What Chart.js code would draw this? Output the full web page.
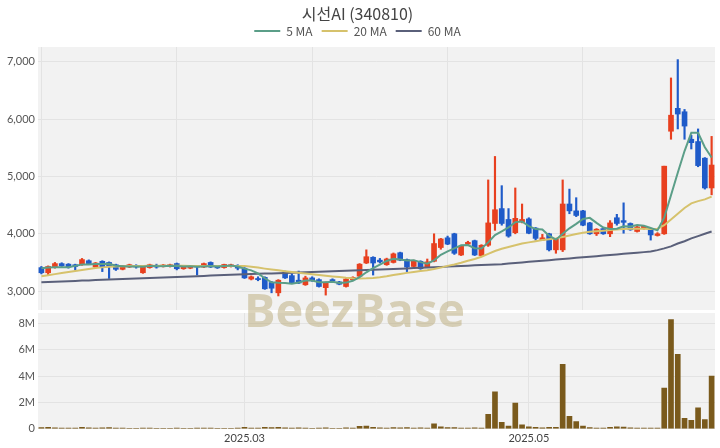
<!DOCTYPE html>
<html>
<head>
<meta charset="utf-8">
<script src="https://cdn.jsdelivr.net/npm/chart.js@4.4.1/dist/chart.umd.min.js"></script>
<style>
  body { margin: 0; background: #fff; width: 720px; height: 448px; overflow: hidden; position: relative; }
  #wrapTop { position: absolute; left: 0; top: 0; width: 720px; height: 310px; }
  #wrapVol { position: absolute; left: 0; top: 310px; width: 720px; height: 138px; }
  #mark { position: absolute; left: 244px; top: 277px; font: bold 47px "Open Sans", sans-serif;
          color: rgba(185, 170, 120, 0.5); pointer-events: none; }
</style>
</head>
<body>
<div id="wrapTop"><canvas id="chPrice"></canvas></div>
<div id="wrapVol"><canvas id="chVol"></canvas></div>
<div id="mark">BeezBase</div>
<script>
// trading days
var dates = ['2025-01-14','2025-01-15','2025-01-16','2025-01-17','2025-01-20','2025-01-21','2025-01-22','2025-01-23','2025-01-24','2025-01-31',
  '2025-02-03','2025-02-04','2025-02-05','2025-02-06','2025-02-07','2025-02-10','2025-02-11','2025-02-12','2025-02-13','2025-02-14',
  '2025-02-17','2025-02-18','2025-02-19','2025-02-20','2025-02-21','2025-02-24','2025-02-25','2025-02-26','2025-02-27','2025-02-28',
  '2025-03-04','2025-03-05','2025-03-06','2025-03-07','2025-03-10','2025-03-11','2025-03-12','2025-03-13','2025-03-14','2025-03-17',
  '2025-03-18','2025-03-19','2025-03-20','2025-03-21','2025-03-24','2025-03-25','2025-03-26','2025-03-27','2025-03-28','2025-03-31',
  '2025-04-01','2025-04-02','2025-04-03','2025-04-04','2025-04-07','2025-04-08','2025-04-09','2025-04-10','2025-04-11','2025-04-14',
  '2025-04-15','2025-04-16','2025-04-17','2025-04-18','2025-04-21','2025-04-22','2025-04-23','2025-04-24','2025-04-25','2025-04-28',
  '2025-04-29','2025-04-30','2025-05-02','2025-05-07','2025-05-08','2025-05-09','2025-05-12','2025-05-13','2025-05-14','2025-05-15',
  '2025-05-16','2025-05-19','2025-05-20','2025-05-21','2025-05-22','2025-05-23','2025-05-26','2025-05-27','2025-05-28','2025-05-29',
  '2025-05-30','2025-06-02','2025-06-04','2025-06-05','2025-06-09','2025-06-10','2025-06-11','2025-06-12','2025-06-13','2025-06-16'];

var openP = [3410,3320,3420,3480,3470,3460,3460,3530,3420,3520,
  3500,3460,3380,3420,3450,3320,3410,3450,3430,3430,
  3480,3390,3400,3440,3420,3500,3430,3410,3430,3450,
  3400,3210,3220,3240,3150,2970,3330,3270,3190,3110,
  3230,3200,3060,3200,3160,3080,3200,3260,3490,3590,
  3540,3460,3500,3670,3550,3430,3520,3420,3520,3760,
  3930,4000,3630,3820,3880,3620,3800,4180,4440,4250,
  4020,4210,4260,4100,3890,4000,3720,3720,4520,4400,
  4400,4190,4000,4090,4000,4280,4230,4180,4040,4090,
  4070,3970,4000,5790,6190,6130,5650,5610,5320,4800];
var highP = [3430,3440,3500,3495,3480,3470,3570,3545,3500,3530,
  3510,3470,3450,3470,3460,3430,3470,3470,3465,3470,
  3490,3440,3440,3450,3490,3510,3440,3470,3470,3460,
  3410,3265,3250,3250,3170,3200,3350,3300,3350,3260,
  3250,3215,3160,3215,3170,3220,3250,3480,3720,3600,
  3570,3575,3665,3680,3560,3540,3530,3560,4000,3920,
  3960,4010,3790,3870,3890,3810,4940,5350,4840,4440,
  4800,4520,4280,4110,3990,4010,3920,4940,4780,4630,
  4410,4200,4090,4100,4230,4340,4540,4190,4130,4140,
  4080,4020,5180,6720,7040,6170,5720,5830,5330,5700];
var lowP = [3300,3280,3400,3430,3400,3370,3450,3470,3410,3340,
  3220,3360,3370,3410,3400,3310,3400,3400,3420,3420,
  3370,3380,3390,3280,3410,3410,3395,3400,3420,3370,
  3220,3195,3180,3030,2970,2915,3220,3130,3130,3100,
  3170,3070,2930,3170,3110,3070,3190,3250,3480,3280,
  3490,3450,3490,3530,3340,3420,3380,3410,3510,3730,
  3810,3640,3620,3810,3620,3600,3780,4060,4150,3940,
  4000,4190,4000,3890,3880,3700,3660,3690,4350,4300,
  4140,3990,3970,3990,3950,4150,4010,4060,4030,4080,
  3890,3960,3990,5650,5830,5650,5480,5170,4780,4680];
var closeP = [3320,3430,3480,3440,3420,3430,3550,3480,3490,3420,
  3440,3380,3440,3460,3420,3420,3460,3420,3455,3460,
  3390,3430,3430,3420,3480,3420,3405,3465,3460,3400,
  3230,3250,3200,3040,3050,3190,3230,3140,3140,3230,
  3180,3080,3150,3180,3120,3210,3240,3470,3600,3490,
  3510,3560,3650,3540,3420,3530,3390,3510,3830,3910,
  3820,3660,3780,3850,3630,3800,4190,4420,4180,3960,
  4270,4250,4010,3920,3930,3720,3910,4520,4400,4320,
  4150,4000,4080,4000,4190,4180,4200,4070,4120,4130,
  3980,4000,5180,6070,6090,5880,5590,5190,4800,5200];

var ma5 = [3400,3410,3415,3415,3418,3440,3464,3464,3474,3474,
  3476,3442,3434,3428,3428,3424,3440,3436,3435,3443,
  3437,3431,3433,3426,3430,3436,3431,3438,3446,3430,
  3392,3361,3308,3224,3154,3146,3142,3130,3150,3186,
  3184,3154,3156,3164,3142,3148,3180,3244,3328,3402,
  3462,3526,3562,3550,3536,3540,3506,3478,3536,3634,
  3692,3746,3800,3804,3748,3744,3850,3978,4044,4110,
  4204,4216,4134,4082,4076,3966,3898,4000,4096,4174,
  4260,4278,4190,4110,4084,4090,4130,4128,4152,4140,
  4100,4060,4282,4672,5064,5444,5762,5764,5510,5332];
var ma20 = [3260,3278,3296,3314,3332,3350,3368,3386,3402,3414,
  3424,3430,3435,3438,3440,3440,3442,3443,3443,3443,
  3442,3441,3440,3439,3438,3438,3437,3437,3437,3438,
  3440,3425,3410,3392,3376,3362,3348,3334,3320,3306,
  3292,3280,3268,3256,3244,3232,3224,3220,3222,3230,
  3242,3258,3280,3300,3318,3334,3350,3365,3385,3410,
  3440,3465,3495,3530,3560,3600,3650,3700,3740,3770,
  3800,3830,3850,3870,3890,3905,3920,3945,3970,3995,
  4020,4035,4045,4055,4065,4075,4085,4090,4090,4090,
  4085,4090,4150,4250,4350,4450,4530,4570,4600,4650];
var ma60 = [3155,3160,3164,3169,3173,3178,3183,3187,3192,3196,
  3201,3206,3210,3215,3219,3224,3229,3233,3238,3242,
  3247,3252,3256,3261,3265,3270,3275,3279,3284,3288,
  3293,3297,3301,3305,3309,3313,3317,3321,3326,3330,
  3334,3338,3342,3346,3350,3355,3359,3363,3367,3371,
  3375,3380,3385,3390,3396,3401,3406,3412,3417,3422,
  3427,3433,3438,3443,3449,3454,3459,3465,3470,3480,
  3490,3500,3510,3520,3530,3540,3550,3560,3570,3580,
  3590,3600,3610,3620,3630,3640,3650,3660,3670,3680,
  3690,3715,3745,3780,3830,3870,3920,3960,4000,4040];

var volume = [90000,120000,80000,60000,50000,60000,110000,70000,60000,80000,
  90000,60000,50000,40000,40000,60000,50000,40000,30000,40000,
  50000,40000,30000,60000,50000,50000,30000,40000,40000,50000,
  110000,60000,50000,120000,90000,110000,70000,60000,70000,60000,
  40000,60000,80000,40000,40000,70000,60000,180000,200000,120000,
  70000,60000,90000,80000,90000,60000,70000,60000,380000,150000,
  100000,90000,60000,50000,70000,60000,1100000,2800000,500000,200000,
  1950000,300000,150000,120000,80000,120000,120000,4900000,950000,550000,
  200000,100000,60000,60000,120000,150000,130000,80000,50000,50000,
  60000,50000,3100000,8300000,5650000,800000,650000,1600000,700000,4000000];

var priceTicks = [3000, 4000, 5000, 6000, 7000];
var volTicks = [0, 2000000, 4000000, 6000000, 8000000];
var xTickMonths = ['2025-03', '2025-05'];

var upColor = '#e8401f', downColor = '#1f5bc9';
var gridColor = '#e3e3e3';
var tickFont = { family: 'Lato, "Noto Sans", sans-serif', size: 11 };

var candleColors = closeP.map(function (c, i) { return c >= openP[i] ? upColor : downColor; });
var wickData = lowP.map(function (l, i) { return [l, highP[i]]; });
var bodyData = openP.map(function (o, i) { return [o, closeP[i]]; });

// grey plot background
var plotBg = {
  id: 'plotBg',
  beforeDraw: function (chart) {
    var a = chart.chartArea, ctx = chart.ctx;
    ctx.save();
    ctx.fillStyle = '#f2f2f2';
    ctx.fillRect(a.left, a.top, a.right - a.left, a.bottom - a.top);
    ctx.restore();
  }
};

// no extra room for edge labels
function noPadY(ax) { ax.width = 38; ax.paddingTop = 0; ax.paddingBottom = 0; }

new Chart(document.getElementById('chPrice'), {
  type: 'bar',
  data: {
    labels: dates,
    datasets: [
      { type: 'line', label: '5 MA', data: ma5, borderColor: '#5b9e88', borderWidth: 2, pointRadius: 0, order: 0 },
      { type: 'line', label: '20 MA', data: ma20, borderColor: '#d6c26c', borderWidth: 2, pointRadius: 0, order: 0 },
      { type: 'line', label: '60 MA', data: ma60, borderColor: '#5a607a', borderWidth: 2, pointRadius: 0, order: 0 },
      { label: 'body', data: bodyData, backgroundColor: candleColors, barThickness: 5, grouped: false, order: 1 },
      { label: 'wick', data: wickData, backgroundColor: candleColors, barThickness: 1.5, grouped: false, order: 2 }
    ]
  },
  options: {
    responsive: true,
    maintainAspectRatio: false,
    animation: false,
    layout: { padding: { left: 0, right: 5, top: 0, bottom: 0 } },
    plugins: {
      title: {
        display: true,
        text: '시선AI (340810)',
        color: '#444',
        font: { family: '"Noto Sans CJK KR", sans-serif', size: 16, weight: 'normal', lineHeight: 1 },
        padding: { top: 6, bottom: -6 }
      },
      legend: {
        labels: {
          filter: function (item) { return /MA$/.test(item.text); },
          usePointStyle: true,
          pointStyle: 'line',
          pointStyleWidth: 26,
          color: '#555',
          font: { family: '"Noto Sans CJK KR", sans-serif', size: 12 },
          padding: 9
        }
      },
      tooltip: { enabled: false }
    },
    scales: {
      x: {
        offset: true,
        afterBuildTicks: function (ax) { ax.ticks = [0, 20, 40, 60, 80].map(function (v) { return { value: v }; }); },
        afterFit: function (ax) { ax.height = 0; ax.paddingLeft = 0; ax.paddingRight = 0; },
        ticks: { display: false },
        grid: { offset: false, color: gridColor, drawTicks: false },
        border: { display: false }
      },
      y: {
        min: 2670,
        max: 7260,
        afterBuildTicks: function (ax) { ax.ticks = priceTicks.map(function (v) { return { value: v }; }); },
        afterFit: noPadY,
        ticks: { callback: function (v) { return v.toLocaleString('en-US'); }, color: '#555', font: tickFont, padding: 3 },
        grid: { color: gridColor, drawTicks: false },
        border: { display: false }
      }
    }
  },
  plugins: [plotBg]
});

new Chart(document.getElementById('chVol'), {
  type: 'bar',
  data: {
    labels: dates,
    datasets: [{ label: 'Volume', data: volume, backgroundColor: '#7a5a1c', barThickness: 5 }]
  },
  options: {
    responsive: true,
    maintainAspectRatio: false,
    animation: false,
    layout: { padding: { left: 0, right: 5, top: 3, bottom: 0 } },
    plugins: { legend: { display: false }, tooltip: { enabled: false } },
    scales: {
      x: {
        offset: true,
        afterBuildTicks: function (ax) {
          ax.ticks = xTickMonths.map(function (m) {
            return { value: dates.findIndex(function (d) { return d.indexOf(m) === 0; }) };
          });
        },
        afterFit: function (ax) { ax.paddingLeft = 0; ax.paddingRight = 0; },
        ticks: {
          autoSkip: false, maxRotation: 0, color: '#444', font: tickFont, padding: 3,
          callback: function (v) { return dates[v].slice(0, 7).replace('-', '.'); }
        },
        grid: { offset: false, color: gridColor, drawTicks: false },
        border: { display: false }
      },
      y: {
        min: 0,
        max: 8800000,
        afterBuildTicks: function (ax) { ax.ticks = volTicks.map(function (v) { return { value: v }; }); },
        afterFit: noPadY,
        ticks: { callback: function (v) { return v === 0 ? '0' : (v / 1000000) + 'M'; }, color: '#555', font: tickFont, padding: 3 },
        grid: { color: gridColor, drawTicks: false },
        border: { display: false }
      }
    }
  },
  plugins: [plotBg]
});
</script>
</body>
</html>
